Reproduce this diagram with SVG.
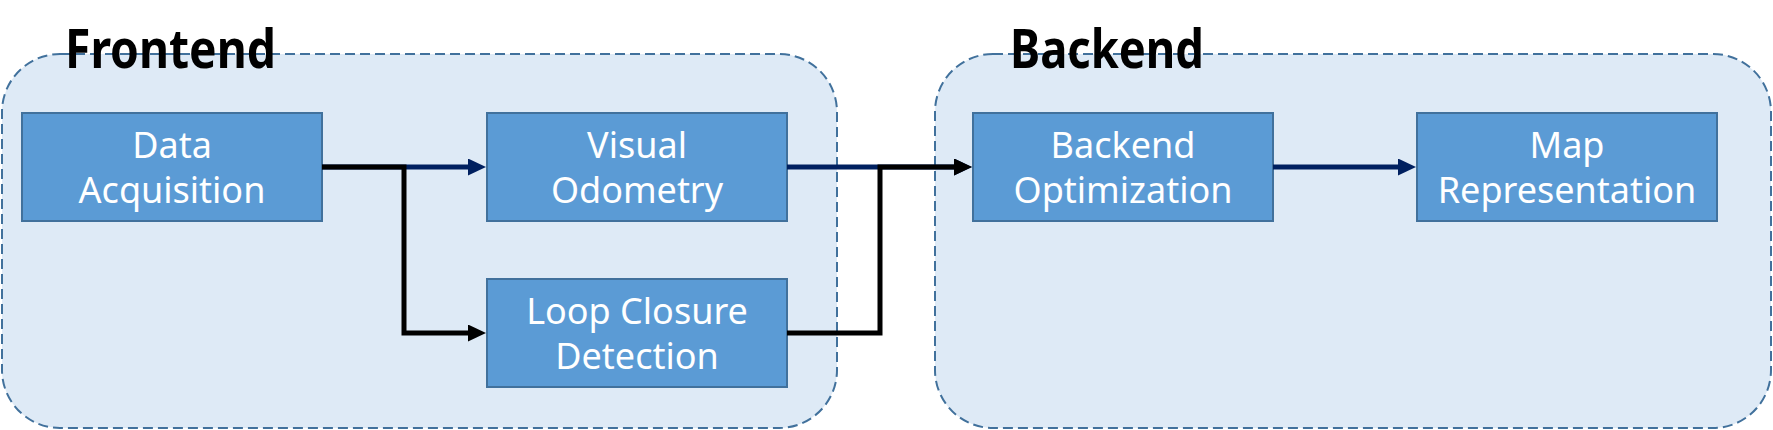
<svg xmlns="http://www.w3.org/2000/svg" width="1773" height="430" viewBox="0 0 1773 430">
<style>
.group{fill:#DEEAF6;stroke:#41719C;stroke-width:2;stroke-dasharray:10 5}
.title{font-family:"Noto Sans","Liberation Sans",sans-serif;font-weight:bold;font-size:53px;fill:#000}
.box{fill:#5B9BD5;stroke:#41719C;stroke-width:2}
.lbl{font-family:"Noto Sans","Liberation Sans",sans-serif;font-size:36px;fill:#fff;text-anchor:middle}
.navy{fill:none;stroke:#002060;stroke-width:5}
.blk{fill:none;stroke:#000;stroke-width:5}
</style>
<defs>
<marker id="an" markerUnits="userSpaceOnUse" markerWidth="20" markerHeight="20" refX="4" refY="8.5" orient="auto"><path d="M0,0 L18,8.5 L0,17 z" fill="#002060"/></marker>
<marker id="ab" markerUnits="userSpaceOnUse" markerWidth="20" markerHeight="20" refX="4" refY="8.5" orient="auto"><path d="M0,0 L18,8.5 L0,17 z" fill="#000"/></marker>
</defs>
<g id="frontend">
<rect class="group" x="2" y="54" width="835" height="374" rx="58"/>
<text class="title" x="65" y="68" textLength="211" lengthAdjust="spacingAndGlyphs">Frontend</text>
</g>
<g id="backend">
<rect class="group" x="935" y="54" width="836" height="374" rx="58"/>
<text class="title" x="1010" y="68" textLength="194" lengthAdjust="spacingAndGlyphs">Backend</text>
</g>
<g id="data-acquisition">
<rect class="box" x="22" y="113" width="300" height="108"/>
<text class="lbl" x="172" y="158">Data</text>
<text class="lbl" x="172" y="203">Acquisition</text>
</g>
<g id="visual-odometry">
<rect class="box" x="487" y="113" width="300" height="108"/>
<text class="lbl" x="637" y="158">Visual</text>
<text class="lbl" x="637" y="203">Odometry</text>
</g>
<g id="loop-closure">
<rect class="box" x="487" y="279" width="300" height="108"/>
<text class="lbl" x="637" y="324">Loop Closure</text>
<text class="lbl" x="637" y="369">Detection</text>
</g>
<g id="backend-optimization">
<rect class="box" x="973" y="113" width="300" height="108"/>
<text class="lbl" x="1123" y="158">Backend</text>
<text class="lbl" x="1123" y="203">Optimization</text>
</g>
<g id="map-representation">
<rect class="box" x="1417" y="113" width="300" height="108"/>
<text class="lbl" x="1567" y="158">Map</text>
<text class="lbl" x="1567" y="203">Representation</text>
</g>
<g id="connectors">
<path class="navy" d="M322,167 H472" marker-end="url(#an)"/>
<path class="blk" d="M322,167 H404 V333 H472" marker-end="url(#ab)"/>
<path class="navy" d="M787,167 H958" marker-end="url(#an)"/>
<path class="blk" d="M787,333 H880 V167 H958" marker-end="url(#ab)"/>
<path class="navy" d="M1273,167 H1402" marker-end="url(#an)"/>
</g>
</svg>
